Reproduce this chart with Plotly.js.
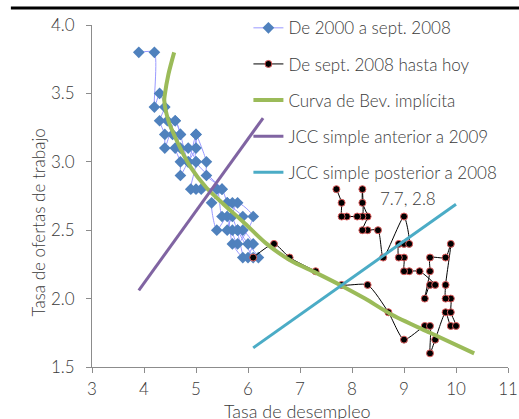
<!DOCTYPE html>
<html>
<head>
<meta charset="utf-8">
<script src="https://cdn.plot.ly/plotly-3.0.1.min.js"></script>
<style>html,body{margin:0;padding:0;background:#fff;}#chart{width:519px;height:419px;}</style>
</head>
<body>
<div id="chart"></div>
<script>
// Series 1: De 2000 a sept. 2008 (unemployment rate, job openings rate)
var blueU = [3.9, 4.2, 4.2, 4.3, 4.4, 4.3, 4.4, 4.4, 4.6, 4.7, 4.6, 4.7, 4.7, 4.85, 5.0, 5.0, 5.2, 5.2, 5.5, 5.3, 5.4, 5.6, 5.7, 5.9, 5.8, 6.0, 6.2, 6.0, 6.1, 5.9, 5.7, 5.8, 6.1, 5.8, 5.6, 5.7, 5.9, 5.6, 5.7, 5.5, 5.4, 5.1, 5.0, 4.9, 5.0, 4.85, 4.7, 4.55, 4.45, 4.6, 4.7, 4.85, 5.0, 5.0, 5.5, 5.6, 5.8, 6.1];
var blueV = [3.8, 3.8, 3.4, 3.5, 3.4, 3.3, 3.2, 3.1, 3.3, 3.2, 3.1, 3.0, 2.9, 3.0, 3.1, 3.2, 3.0, 2.9, 2.8, 2.7, 2.5, 2.6, 2.4, 2.3, 2.5, 2.4, 2.3, 2.3, 2.4, 2.5, 2.5, 2.4, 2.6, 2.7, 2.5, 2.6, 2.6, 2.7, 2.7, 2.6, 2.8, 2.8, 2.8, 2.8, 3.0, 3.1, 3.1, 3.2, 3.3, 3.3, 3.2, 3.0, 3.2, 3.0, 2.8, 2.7, 2.5, 2.3];
// Series 2: De sept. 2008 hasta hoy
var blackU = [6.1, 6.5, 6.8, 7.3, 7.8, 8.3, 8.7, 9.0, 9.4, 9.5, 9.5, 9.6, 9.8, 9.9, 10.0, 9.9, 9.9, 9.8, 9.8, 9.9, 9.8, 9.5, 9.5, 9.4, 9.5, 9.6, 9.3, 9.1, 9.0, 9.0, 8.9, 8.9, 9.0, 9.1, 9.0, 8.6, 8.5, 8.3, 8.2, 8.3, 8.2, 8.2, 8.2, 8.1, 7.9, 7.8, 7.8, 7.7];
var blackV = [2.3, 2.4, 2.3, 2.2, 2.1, 2.1, 1.9, 1.7, 1.8, 1.8, 1.6, 1.7, 1.9, 1.8, 1.8, 1.9, 2.0, 2.0, 2.1, 2.4, 2.3, 2.3, 2.2, 2.0, 2.1, 2.1, 2.2, 2.2, 2.2, 2.3, 2.3, 2.4, 2.4, 2.4, 2.6, 2.3, 2.5, 2.5, 2.5, 2.6, 2.7, 2.8, 2.6, 2.6, 2.6, 2.6, 2.7, 2.8];
// Implicit Beveridge curve
var bevU = [4.58, 4.47, 4.40, 4.39, 4.47, 4.66, 4.88, 5.20, 5.53, 5.91, 6.36, 6.81, 7.30, 7.77, 8.25, 8.73, 9.50, 10.35];
var bevV = [3.80, 3.64, 3.49, 3.45, 3.30, 3.13, 2.97, 2.81, 2.69, 2.56, 2.40, 2.28, 2.19, 2.10, 2.00, 1.89, 1.75, 1.60];
// Simple JCC lines
var jccPreU = [3.9, 6.29];
var jccPreV = [2.06, 3.32];
var jccPostU = [6.1, 10.0];
var jccPostV = [1.64, 2.69];
// Labels
var seriesNames = ["De 2000 a sept. 2008", "De sept. 2008 hasta hoy", "Curva de Bev. implícita", "JCC simple anterior a 2009", "JCC simple posterior a 2008"];
var lastLabel = "7.7, 2.8";
var xTitle = "Tasa de desempleo";
var yTitle = "Tasa de ofertas de trabajo";
var xTicks = [3, 4, 5, 6, 7, 8, 9, 10, 11];
var yTicks = [1.5, 2.0, 2.5, 3.0, 3.5, 4.0];

var FONT = "Lato, 'Open Sans', sans-serif";
var TXT = "#3a3a3a";
var W = 300;

var traces = [
  {x: blueU, y: blueV, name: seriesNames[0], type: "scatter", mode: "lines+markers", legendgroup: "a",
   line: {color: "#9999ff", width: 1, shape: "spline", smoothing: 0.6},
   marker: {symbol: "diamond", color: "#4f81bd", size: 9}},
  {x: blackU, y: blackV, name: seriesNames[1], type: "scatter", mode: "lines+markers", legendgroup: "b",
   line: {color: "#000000", width: 1, shape: "spline", smoothing: 0.6},
   marker: {symbol: "circle", color: "#000000", size: 7, line: {color: "#e06060", width: 1}}},
  {x: bevU, y: bevV, name: seriesNames[2], type: "scatter", mode: "lines", legendgroup: "c",
   line: {color: "#9bbb59", width: 4, shape: "spline", smoothing: 0.8}},
  {x: jccPreU, y: jccPreV, name: seriesNames[3], type: "scatter", mode: "lines", legendgroup: "d",
   line: {color: "#8064a2", width: 3}},
  {x: jccPostU, y: jccPostV, name: seriesNames[4], type: "scatter", mode: "lines", legendgroup: "e",
   line: {color: "#4bacc6", width: 3}}
];

var layout = {
  width: 519, height: 419,
  margin: {l: 92, r: 11, t: 24, b: 52, pad: 0},
  paper_bgcolor: "#ffffff", plot_bgcolor: "#ffffff",
  font: {family: FONT, size: 16, color: TXT, weight: W},
  showlegend: true,
  legend: {x: 0.376, y: 1.04, xanchor: "left", yanchor: "top", bgcolor: "rgba(0,0,0,0)",
           font: {family: FONT, size: 17, color: TXT, weight: W}, tracegroupgap: 11, traceorder: "grouped", itemwidth: 25},
  xaxis: {range: [3, 11], tickvals: xTicks, ticktext: xTicks.map(String), showgrid: false, zeroline: false,
          showline: true, linecolor: "#8c8c8c", linewidth: 1, ticks: "outside", ticklen: 5, tickcolor: "#8c8c8c",
          tickfont: {family: FONT, size: 17, color: TXT, weight: W}, ticklabelstandoff: 2},
  yaxis: {range: [1.5, 4.0], tickvals: yTicks, ticktext: yTicks.map(function(v){return v.toFixed(1);}), showgrid: false, zeroline: false,
          showline: true, linecolor: "#8c8c8c", linewidth: 1, ticks: "outside", ticklen: 5, tickcolor: "#8c8c8c",
          tickfont: {family: FONT, size: 17, color: TXT, weight: W}, ticklabelstandoff: 8},
  annotations: [
    {x: 7.7, y: 2.8, xref: "x", yref: "y", text: lastLabel, showarrow: false, xanchor: "left", yanchor: "middle",
     xshift: 42, yshift: -9, font: {family: FONT, size: 17, color: TXT, weight: W}},
    {x: -0.1298, y: 0.4227, xref: "paper", yref: "paper", text: yTitle, showarrow: false, textangle: -90,
     xanchor: "center", yanchor: "middle", font: {family: FONT, size: 17, color: TXT, weight: W}},
    {x: 0.4928, y: -0.128, xref: "paper", yref: "paper", text: xTitle, showarrow: false,
     xanchor: "center", yanchor: "middle", font: {family: FONT, size: 18, color: TXT, weight: W}}
  ],
  shapes: [
    {type: "line", xref: "paper", yref: "paper", x0: -0.195, x1: 1.03, y0: 1.0496, y1: 1.0496, layer: "above",
     line: {color: "#000000", width: 3}}
  ]
};

Plotly.newPlot("chart", traces, layout, {displayModeBar: false, staticPlot: true});
</script>
</body>
</html>
